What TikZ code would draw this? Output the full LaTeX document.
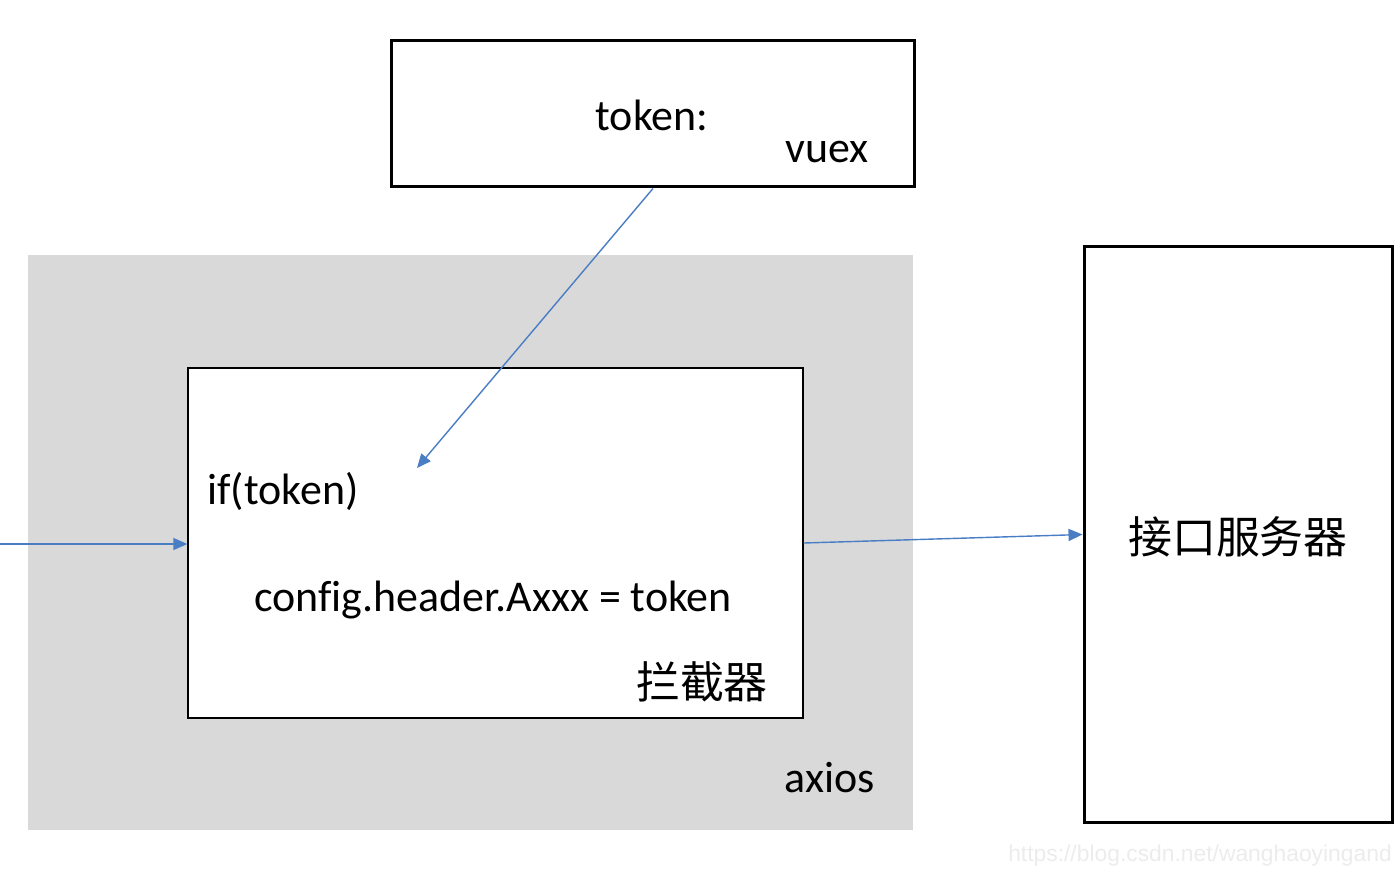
\documentclass[tikz,border=0pt]{standalone}
\usepackage{fontspec}
\setmainfont{Carlito}
\newfontfamily\cjkfont{Noto Sans CJK SC}
\newfontfamily\markfont{Liberation Sans}
\usetikzlibrary{arrows.meta, positioning}
\definecolor{linkblue}{HTML}{4A7EC4}
\definecolor{axiosbg}{HTML}{D9D9D9}
\definecolor{marktext}{HTML}{ECECEC}

\begin{document}
\begin{tikzpicture}[
    x=0.02cm, y=-0.02cm,
    font=\fontsize{25}{30}\selectfont,
    thickbox/.style={rectangle, draw=black, line width=1.7pt, fill=white, inner sep=0pt},
    thinbox/.style={rectangle, draw=black, line width=0.8pt, fill=white, inner sep=0pt},
    area/.style={rectangle, fill=axiosbg, inner sep=0pt},
    label/.style={inner sep=0pt},
    arrow/.style={-{Triangle[length=0.28cm, width=0.24cm]}, line width=0.8pt, color=linkblue}
]
    \useasboundingbox (0,0) rectangle (1400,873);

    % boxes
    \node[thickbox, minimum width=10.48cm, minimum height=2.94cm] (vuex) at (653,113.5) {};
    \node[area, minimum width=17.7cm, minimum height=11.5cm] (axios) at (470.5,542.5) {};
    \node[thinbox, minimum width=12.3cm, minimum height=7cm] (icpt) at (495.5,543) {};
    \node[thickbox, minimum width=6.18cm, minimum height=11.54cm] (server) at (1238.5,534.5) {};

    % texts
    \node[label] (tokenlbl) at (652,115) {token:};
    \node[label] (vuexlbl) at (827,152) {vuex};
    \node[label] (iflbl) at (283,491) {if(token)};
    \node[label] (cfglbl) at (493,600) {\addfontfeature{Ligatures=NoCommon}config.header.Axxx = token};
    \node[label] (icptlbl) at (702,682) {\cjkfont 拦截器};
    \node[label] (axioslbl) at (830,778) {axios};
    \node[label] (serverlbl) at (1238,537) {\cjkfont 接口服务器};
    \node[label, text=marktext, font=\markfont\fontsize{13}{15}\selectfont] (mark) at (1200,856) {https://blog.csdn.net/wanghaoyingand};

    % connectors
    \coordinate (start) at (0,544);
    \coordinate (tokenin) at (417,468);
    \draw[arrow] (start) -- (icpt.west |- start);
    \draw[arrow] (icpt.east) -- (server.west);
    \draw[arrow] (vuex.south) -- (tokenin);
\end{tikzpicture}
\end{document}
